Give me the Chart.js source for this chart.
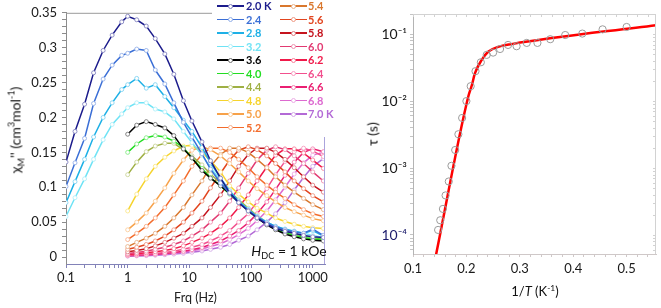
<!DOCTYPE html>
<html>
<head>
<meta charset="utf-8">
<script src="https://cdn.jsdelivr.net/npm/chart.js@4.4.1/dist/chart.umd.min.js"></script>
<style>
  body { margin: 0; background: #fff; width: 661px; height: 308px; overflow: hidden; position: relative; font-family: Lato, 'Liberation Sans', sans-serif; }
  canvas { position: absolute; top: 0; }
  #chiChart { left: 0; }
  #tauChart { left: 335px; }
  .lab { position: absolute; white-space: nowrap; color: #111; transform: translate(-50%, -50%); }
  .lab sub, .lab sup { font-size: 65%; line-height: 0; }
  .leg-line { position: absolute; height: 1.8px; width: 27px; }
  .leg-dot { position: absolute; width: 3px; height: 3px; border-radius: 50%; background: #fff; border: 1px solid; }
  .leg-txt { position: absolute; font-weight: bold; font-size: 11px; line-height: 12px; }
</style>
</head>
<body>
<canvas id="chiChart" width="335" height="308"></canvas>
<canvas id="tauChart" width="326" height="308"></canvas>

<div class="lab" style="left:15px; top:130px; font-size:14px; transform: translate(-50%,-50%) rotate(-90deg);">χ<sub>M</sub>'' (cm<sup>3</sup>mol<sup>-1</sup>)</div>
<div class="lab" style="left:289px; top:250px; font-size:14px;"><i>H</i><sub>DC</sub> = 1 kOe</div>
<div class="lab" style="left:372px; top:134px; font-size:14px; transform: translate(-50%,-50%) rotate(-90deg);">τ (s)</div>
<div class="lab" style="left:535px; top:291px; font-size:13px;">1/<i>T</i> (K<sup>-1</sup>)</div>
<div id="legend"></div>

<script>
// ---- left panel: chi'' vs frequency ----
const freqLow = [0.1, 0.14, 0.2, 0.28, 0.4, 0.56, 0.8, 1, 1.4, 2, 2.8, 4, 5.6, 8, 11, 16, 22, 32, 45, 63, 90, 125, 180, 250, 355, 500, 710, 1000, 1488];
const freqHigh = [1, 1.4, 2, 2.8, 4, 5.6, 8, 11, 16, 22, 32, 45, 63, 90, 125, 180, 250, 355, 500, 710, 1000, 1488];

const temps = ['2.0 K', '2.4', '2.8', '3.2', '3.6', '4.0', '4.4', '4.8', '5.0', '5.2',
               '5.4', '5.6', '5.8', '6.0', '6.2', '6.4', '6.6', '6.8', '7.0 K'];
const colors = ['#1c1c8c', '#3b6fd6', '#1eb0e6', '#6fe3f5', '#000000', '#22dd22', '#9fb044', '#f6d42e', '#f7a24a', '#f36c2c',
                '#d9772d', '#e2451f', '#c5141e', '#e23a72', '#f01a4a', '#f2508e', '#ea1f72', '#dd6ad0', '#b36ad6'];

const chi20 = [0.136, 0.180, 0.219, 0.264, 0.296, 0.318, 0.337, 0.345, 0.340, 0.331, 0.313, 0.291, 0.262, 0.224, 0.195, 0.165, 0.138, 0.113, 0.092, 0.078, 0.066, 0.056, 0.047, 0.041, 0.037, 0.034, 0.031, 0.029, 0.028];
const chi24 = [0.101, 0.135, 0.170, 0.220, 0.255, 0.275, 0.289, 0.292, 0.298, 0.296, 0.268, 0.248, 0.221, 0.193, 0.172, 0.148, 0.126, 0.106, 0.091, 0.078, 0.067, 0.057, 0.049, 0.043, 0.039, 0.036, 0.034, 0.040, 0.031];
const chi28 = [0.078, 0.108, 0.140, 0.172, 0.200, 0.221, 0.240, 0.247, 0.256, 0.242, 0.247, 0.230, 0.214, 0.196, 0.180, 0.157, 0.135, 0.113, 0.095, 0.080, 0.068, 0.058, 0.050, 0.044, 0.040, 0.037, 0.034, 0.038, 0.030];
const chi32 = [0.058, 0.085, 0.112, 0.140, 0.168, 0.190, 0.205, 0.214, 0.221, 0.221, 0.212, 0.208, 0.198, 0.180, 0.164, 0.146, 0.128, 0.110, 0.094, 0.080, 0.068, 0.058, 0.050, 0.044, 0.040, 0.037, 0.034, 0.031, 0.028];
const chi36 = [0.176, 0.189, 0.194, 0.190, 0.185, 0.174, 0.155, 0.142, 0.124, 0.113, 0.102, 0.091, 0.079, 0.067, 0.056, 0.046, 0.039, 0.033, 0.029, 0.026, 0.024, 0.023];
const chi40 = [0.150, 0.162, 0.171, 0.174, 0.172, 0.166, 0.157, 0.142, 0.127, 0.114, 0.102, 0.090, 0.078, 0.066, 0.056, 0.047, 0.040, 0.035, 0.031, 0.028, 0.026, 0.025];
const chi44 = [0.118, 0.136, 0.151, 0.159, 0.163, 0.163, 0.154, 0.145, 0.132, 0.119, 0.106, 0.094, 0.082, 0.070, 0.059, 0.050, 0.043, 0.037, 0.033, 0.030, 0.028, 0.026];
const chi48 = [0.066, 0.090, 0.112, 0.130, 0.143, 0.152, 0.159, 0.160, 0.150, 0.138, 0.122, 0.102, 0.090, 0.079, 0.070, 0.063, 0.056, 0.051, 0.047, 0.044, 0.042, 0.041];
const chi50 = [0.039, 0.050, 0.063, 0.080, 0.099, 0.120, 0.139, 0.153, 0.158, 0.154, 0.145, 0.134, 0.122, 0.109, 0.098, 0.088, 0.079, 0.071, 0.065, 0.060, 0.055, 0.052];
const chi52 = [0.025, 0.034, 0.044, 0.056, 0.071, 0.089, 0.109, 0.130, 0.147, 0.156, 0.156, 0.150, 0.140, 0.128, 0.115, 0.103, 0.093, 0.084, 0.075, 0.068, 0.062, 0.058];
const chi54 = [0.015, 0.021, 0.027, 0.034, 0.044, 0.056, 0.071, 0.089, 0.109, 0.130, 0.147, 0.156, 0.156, 0.150, 0.140, 0.128, 0.115, 0.103, 0.093, 0.084, 0.075, 0.068];
const chi56 = [0.011, 0.014, 0.018, 0.023, 0.030, 0.039, 0.050, 0.063, 0.080, 0.099, 0.120, 0.139, 0.153, 0.158, 0.154, 0.145, 0.134, 0.122, 0.109, 0.098, 0.088, 0.079];
const chi58 = [0.0075, 0.0095, 0.012, 0.016, 0.021, 0.027, 0.034, 0.044, 0.056, 0.071, 0.089, 0.109, 0.130, 0.147, 0.156, 0.156, 0.150, 0.140, 0.128, 0.115, 0.103, 0.093];
const chi60 = [0.005, 0.0066, 0.0084, 0.011, 0.014, 0.018, 0.023, 0.030, 0.039, 0.050, 0.063, 0.080, 0.099, 0.120, 0.139, 0.153, 0.158, 0.154, 0.145, 0.134, 0.122, 0.109];
const chi62 = [0.0036, 0.0047, 0.006, 0.0075, 0.0095, 0.012, 0.016, 0.021, 0.027, 0.034, 0.044, 0.056, 0.071, 0.089, 0.109, 0.129, 0.146, 0.155, 0.155, 0.149, 0.139, 0.127];
const chi64 = [0.0025, 0.0031, 0.004, 0.005, 0.0066, 0.0083, 0.011, 0.014, 0.018, 0.023, 0.030, 0.038, 0.050, 0.062, 0.079, 0.098, 0.118, 0.137, 0.151, 0.156, 0.152, 0.144];
const chi66 = [0.002, 0.0025, 0.0031, 0.004, 0.005, 0.0065, 0.0082, 0.0105, 0.0136, 0.018, 0.023, 0.030, 0.038, 0.049, 0.062, 0.079, 0.097, 0.117, 0.136, 0.150, 0.155, 0.151];
const chi68 = [0.0017, 0.0021, 0.0027, 0.0034, 0.0043, 0.0055, 0.007, 0.009, 0.0115, 0.015, 0.019, 0.025, 0.032, 0.041, 0.052, 0.066, 0.082, 0.100, 0.119, 0.135, 0.146, 0.150];
const chi70 = [0.0013, 0.0016, 0.002, 0.0026, 0.0033, 0.0042, 0.0053, 0.0068, 0.0087, 0.011, 0.014, 0.018, 0.024, 0.030, 0.039, 0.050, 0.062, 0.078, 0.096, 0.114, 0.130, 0.141];

const chiSeries = [chi20, chi24, chi28, chi32, chi36, chi40, chi44, chi48, chi50, chi52,
                   chi54, chi56, chi58, chi60, chi62, chi64, chi66, chi68, chi70];

const freqTicks = [0.1, 1, 10, 100, 1000];
const freqTickLabels = ['0.1', '1', '10', '100', '1000'];
const chiTicks = [0, 0.05, 0.1, 0.15, 0.2, 0.25, 0.3, 0.35];
const chiTickLabels = ['0', '0.05', '0.1', '0.15', '0.2', '0.25', '0.3', '0.35'];

// ---- right panel: tau vs 1/T ----
const invT = [0.147, 0.151, 0.156, 0.161, 0.167, 0.172, 0.179, 0.185, 0.192, 0.200, 0.208, 0.217, 0.227, 0.238, 0.250, 0.263, 0.278, 0.294, 0.313, 0.333, 0.357, 0.385, 0.417, 0.455, 0.500];
const tau = [1.19e-4, 1.66e-4, 2.45e-4, 3.9e-4, 6.3e-4, 1.08e-3, 1.86e-3, 3.2e-3, 5.6e-3, 1.0e-2, 1.67e-2, 2.8e-2, 3.8e-2, 4.9e-2, 5.3e-2, 6.0e-2, 6.9e-2, 6.6e-2, 7.4e-2, 7.4e-2, 8.4e-2, 9.7e-2, 0.102, 0.118, 0.128];
const fitInvT = [0.143, 0.2034, 0.2103, 0.2159, 0.2284, 0.2407, 0.2594, 0.2845, 0.555];
const fitTau = [5.0e-5, 1.16e-2, 1.74e-2, 2.59e-2, 4.09e-2, 5.45e-2, 6.45e-2, 7.1e-2, 0.136];

const invTTicks = [0.1, 0.2, 0.3, 0.4, 0.5];
const invTTickLabels = ['0.1', '0.2', '0.3', '0.4', '0.5'];
const tauTicks = [1e-4, 1e-3, 1e-2, 1e-1];
const tauTickLabels = ['10⁻⁴', '10⁻³', '10⁻²', '10⁻¹'];

const tickFont = { family: 'Lato', size: 13 };

function tint(hex, k) {
  const n = parseInt(hex.slice(1), 16);
  const mix = c => Math.round(c + (255 - c) * k);
  return `rgb(${mix(n >> 16 & 255)},${mix(n >> 8 & 255)},${mix(n & 255)})`;
}

function labelFor(v, vals, labels) {
  const i = vals.findIndex(t => Math.abs(v - t) < Math.abs(t) * 1e-6 + 1e-12);
  return i >= 0 ? labels[i] : '';
}

function logTicks(scale) {
  const t = [];
  for (let e = -5; e <= 3; e++) {
    for (let m = 1; m < 10; m++) {
      const v = m * Math.pow(10, e);
      if (v >= scale.min * 0.9999 && v <= scale.max) t.push({ value: v });
    }
  }
  scale.ticks = t;
}

// partial frame lines of the left panel
const chiFrame = {
  id: 'chiFrame',
  afterDraw(chart) {
    const { ctx, chartArea: a } = chart;
    ctx.save();
    ctx.lineWidth = 1;
    ctx.strokeStyle = '#9a9a9a';
    ctx.beginPath();
    ctx.moveTo(a.left, a.top + 0.5);
    ctx.lineTo(212, a.top + 0.5);
    ctx.stroke();
    ctx.strokeStyle = '#aaa4dc';
    ctx.beginPath();
    ctx.moveTo(a.right - 0.5, 137);
    ctx.lineTo(a.right - 0.5, a.bottom);
    ctx.stroke();
    ctx.restore();
  }
};

// top/right box of the right panel with small ticks
const tauFrame = {
  id: 'tauFrame',
  afterDraw(chart) {
    const { ctx, chartArea: a, scales } = chart;
    ctx.save();
    ctx.lineWidth = 1;
    ctx.strokeStyle = '#d2d2d2';
    ctx.beginPath();
    ctx.moveTo(a.left, a.top + 0.5);
    ctx.lineTo(a.right - 0.5, a.top + 0.5);
    ctx.lineTo(a.right - 0.5, a.bottom);
    scales.x.ticks.forEach(t => {
      const px = Math.round(scales.x.getPixelForValue(t.value)) + 0.5;
      ctx.moveTo(px, a.top);
      ctx.lineTo(px, a.top + 3);
    });
    scales.y.ticks.forEach(t => {
      const py = Math.round(scales.y.getPixelForValue(t.value)) + 0.5;
      if (py < a.top || py > a.bottom) return;
      ctx.moveTo(a.right, py);
      ctx.lineTo(a.right - 3, py);
    });
    ctx.stroke();
    ctx.restore();
  }
};

const chiDatasets = chiSeries.map((vals, i) => {
  const f = vals.length === freqLow.length ? freqLow : freqHigh;
  return {
    label: temps[i],
    data: vals.map((v, j) => ({ x: f[j], y: v })),
    borderColor: colors[i],
    borderWidth: 1.5,
    pointRadius: 2,
    pointBorderWidth: 1,
    pointBackgroundColor: '#ffffff',
    pointBorderColor: tint(colors[i], 0.5),
    tension: 0,
  };
});

new Chart(document.getElementById('chiChart'), {
  type: 'line',
  data: { datasets: chiDatasets },
  options: {
    responsive: false,
    animation: false,
    layout: { padding: { left: 0, right: 10, top: 8, bottom: 0 } },
    plugins: { legend: { display: false }, tooltip: { enabled: false } },
    scales: {
      x: {
        type: 'logarithmic',
        min: 0.1,
        max: 1580,
        afterFit: s => { s.height = 44; },
        afterBuildTicks: logTicks,
        border: { color: '#8282b8' },
        grid: { drawOnChartArea: false, tickLength: 4, color: '#8282b8' },
        ticks: {
          autoSkip: false, maxRotation: 0, padding: 2, color: '#1a1a1a', font: tickFont,
          callback: v => labelFor(v, freqTicks, freqTickLabels),
        },
        title: { display: true, text: 'Frq (Hz)', color: '#222', font: { family: 'Lato', size: 12.5 }, padding: { top: 0, bottom: 3 } },
      },
      y: {
        min: -0.01,
        max: 0.35,
        afterFit: s => { s.width = 66; },
        afterBuildTicks: s => {
          const t = [];
          for (let i = 0; i <= 35; i++) t.push({ value: i / 100 });
          s.ticks = t;
        },
        border: { color: '#8c8c8c' },
        grid: { drawOnChartArea: false, tickLength: 4, color: '#8c8c8c' },
        ticks: {
          autoSkip: false, padding: 5, color: '#1a1a1a', font: tickFont,
          callback: v => labelFor(v, chiTicks, chiTickLabels),
        },
      },
    },
  },
  plugins: [chiFrame],
});

new Chart(document.getElementById('tauChart'), {
  type: 'scatter',
  data: {
    datasets: [
      {
        label: 'tau',
        data: invT.map((x, i) => ({ x: x, y: tau[i] })),
        pointRadius: 3.6,
        pointBorderWidth: 1,
        pointBorderColor: '#9b9b9b',
        pointBackgroundColor: 'rgba(0,0,0,0)',
        showLine: false,
      },
      {
        label: 'fit',
        data: fitInvT.map((x, i) => ({ x: x, y: fitTau[i] })),
        showLine: true,
        borderColor: '#ff0000',
        borderWidth: 2.5,
        pointRadius: 0,
        cubicInterpolationMode: 'monotone',
      },
    ]
  },
  options: {
    responsive: false,
    animation: false,
    layout: { padding: { left: 0, right: 5, top: 14, bottom: 0 } },
    plugins: { legend: { display: false }, tooltip: { enabled: false } },
    scales: {
      x: {
        type: 'linear',
        min: 0.1,
        max: 0.555,
        afterFit: s => { s.height = 54; },
        afterBuildTicks: s => {
          const t = [];
          for (let i = 5; i <= 27; i++) t.push({ value: i / 50 });
          s.ticks = t;
        },
        border: { color: '#cfc8c8' },
        grid: { drawOnChartArea: false, tickLength: 3, color: '#cfc8c8' },
        ticks: {
          autoSkip: false, maxRotation: 0, padding: 4, color: '#1a1a1a', font: tickFont,
          callback: v => labelFor(v, invTTicks, invTTickLabels),
        },
      },
      y: {
        type: 'logarithmic',
        min: 5.2e-5,
        max: 0.2,
        afterFit: s => { s.width = 78; },
        afterBuildTicks: logTicks,
        border: { color: '#b4b4b4' },
        grid: { drawOnChartArea: false, tickLength: 3, color: '#c4c4c4' },
        ticks: {
          autoSkip: false, padding: 3, font: { family: 'Lato', size: 14 },
          color: c => (c.tick && Math.abs(c.tick.value - 1e-4) < 1e-9 ? '#1c1c6c' : '#1a1a1a'),
          callback: v => labelFor(v, tauTicks, tauTickLabels),
        },
      },
    },
  },
  plugins: [tauFrame],
});

// two-column legend of the left panel
const legend = document.getElementById('legend');
temps.forEach((name, i) => {
  const col = i < 10 ? 0 : 1;
  const row = i < 10 ? i : i - 10;
  const cy = 6 + row * 13.5;
  const lineX = col === 0 ? 217 : 280;
  const textX = col === 0 ? 246 : 308;
  const line = document.createElement('div');
  line.className = 'leg-line';
  line.style.cssText = `left:${lineX}px; top:${cy - 0.9}px; background:${colors[i]};`;
  const dot = document.createElement('div');
  dot.className = 'leg-dot';
  dot.style.cssText = `left:${lineX + 11}px; top:${cy - 2.5}px; border-color:${tint(colors[i], 0.45)};`;
  const txt = document.createElement('div');
  txt.className = 'leg-txt';
  txt.style.cssText = `left:${textX}px; top:${cy - 6}px; color:${colors[i]};`;
  txt.textContent = name;
  legend.append(line, dot, txt);
});
</script>
</body>
</html>
